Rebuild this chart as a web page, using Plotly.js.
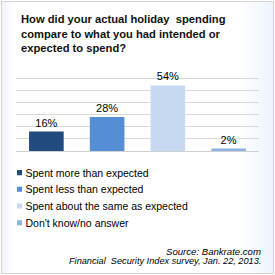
<!DOCTYPE html>
<html>
<head>
<meta charset="utf-8">
<script src="https://cdn.plot.ly/plotly-3.0.1.min.js"></script>
<style>
  html, body { margin: 0; padding: 0; background: #ffffff; }
  #frame {
    position: absolute; left: 1px; top: 1px; width: 271px; height: 271px;
    border: 1px solid #d4d4d4;
    background: linear-gradient(to right, #eef3fd 0px, #ffffff 12px, #ffffff 235px, #eef3fd 271px);
  }
  #chart { position: absolute; left: -2px; top: -2px; width: 275px; height: 275px; }
  .legend .legendpoints path { transform: scale(0.42); }
</style>
</head>
<body>
<div id="frame"><div id="chart"></div></div>
<script>
const categories = ["Spent more than expected", "Spent less than expected", "Spent about the same as expected", "Don't know/no answer"];
const values = [16, 28, 54, 2];
const valueLabels = ["16%", "28%", "54%", "2%"];
const colors = ["#214a7e", "#558ed5", "#c6d9f1", "#8db3e2"];
const titleText = "How did your actual holiday  spending<br>compare to what you had intended or<br>expected to spend?";
const sourceLines = ["Source: Bankrate.com", "Financial  Security Index survey, Jan. 22, 2013."];

const FONT = "Liberation Sans, Arial, sans-serif";

const traces = categories.map((c, i) => ({
  type: "bar",
  name: c,
  x: [c],
  y: [values[i]],
  text: [valueLabels[i]],
  textposition: "outside",
  cliponaxis: false,
  textfont: { family: FONT, size: 11, color: "#000000" },
  marker: { color: colors[i], line: { width: 0 } },
  width: 0.57,
  hoverinfo: "none"
}));

const layout = {
  width: 275, height: 275,
  margin: { l: 16, r: 16, t: 66, b: 124, pad: 0 },
  paper_bgcolor: "rgba(0,0,0,0)",
  plot_bgcolor: "rgba(0,0,0,0)",
  barmode: "overlay",
  showlegend: true,
  xaxis: {
    categoryorder: "array", categoryarray: categories,
    showticklabels: false, showgrid: false, zeroline: false, showline: false, ticks: ""
  },
  yaxis: {
    range: [0, 70], dtick: 10, showticklabels: false, ticks: "",
    showgrid: true, gridcolor: "#d9d9d9", gridwidth: 1,
    zeroline: true, zerolinecolor: "#d0d0d0", zerolinewidth: 1, showline: false
  },
  legend: {
    x: 0, xanchor: "left", y: -0.084, yanchor: "top",
    font: { family: FONT, size: 10.5, color: "#000000" },
    bgcolor: "rgba(0,0,0,0)", traceorder: "normal"
  },
  annotations: [
    { text: "<b>" + titleText + "</b>", xref: "paper", yref: "paper", x: 3 / 243, y: (151 - 11) / 85,
      xanchor: "left", yanchor: "top", align: "left", showarrow: false,
      font: { family: FONT, size: 11.2, color: "#111111" } },
    { text: sourceLines[0], xref: "paper", yref: "paper", x: 1.015, y: -1.18, xanchor: "right", yanchor: "middle",
      showarrow: false, font: { family: FONT, size: 9.6, color: "#000000", style: "italic" } },
    { text: sourceLines[1], xref: "paper", yref: "paper", x: 1.015, y: -1.29, xanchor: "right", yanchor: "middle",
      showarrow: false, font: { family: FONT, size: 9.2, color: "#000000", style: "italic" } }
  ]
};

Plotly.newPlot("chart", traces, layout, { displayModeBar: false, staticPlot: true }).then(gd => {
  const items = gd.querySelectorAll(".legend .traces");
  let y0 = null;
  items.forEach((el, i) => {
    const m = /translate\(\s*([-\d.]+)[ ,]+([-\d.]+)\s*\)/.exec(el.getAttribute("transform") || "");
    if (!m) return;
    if (y0 === null) y0 = parseFloat(m[2]);
    el.setAttribute("transform", "translate(" + m[1] + "," + (y0 + i * 16.7) + ")");
  });
  // align legend swatches and labels horizontally with the reference layout
  const base = gd.getBoundingClientRect();
  items.forEach(el => {
    const pts = el.querySelector(".legendpoints");
    const txt = el.querySelector(".legendtext");
    if (pts) {
      const r = pts.getBoundingClientRect();
      const dx = 17 - (r.left - base.left);
      pts.setAttribute("transform", "translate(" + dx + ",0)");
    }
    if (txt) {
      const r = txt.getBoundingClientRect();
      const dx = 25.5 - (r.left - base.left);
      txt.setAttribute("transform", "translate(" + dx + ",0)");
    }
  });
});
</script>
</body>
</html>
